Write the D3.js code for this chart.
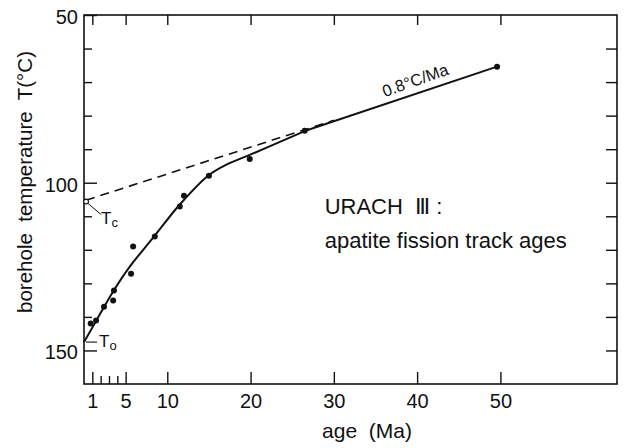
<!DOCTYPE html>
<html>
<head>
<meta charset="utf-8">
<script src="https://cdn.jsdelivr.net/npm/d3@7"></script>
<style>
  body { margin: 0; background: #fff; }
  text { font-family: 'Liberation Sans', Arial, sans-serif; fill: #111; }
</style>
</head>
<body>
<div id="root"></div>
<script>
// apatite fission track ages (Ma) vs borehole temperature (°C)
const sampleAges = [0.8, 1.45, 2.4, 3.6, 3.5, 5.65, 5.9, 8.5, 11.5, 12.0, 15.0, 19.9, 26.5, 49.6];
const sampleTemps = [142.0, 141.1, 137.0, 132.1, 135.1, 127.1, 119.0, 116.0, 107.1, 103.9, 97.9, 92.9, 84.5, 65.4];

// hand-drawn fit through the samples (curved part)
const curveAges = [0, 1.5, 3.5, 5.5, 8.3, 11.5, 14.9, 17.1, 19.9, 26.5];
const curveTemps = [147.5, 141.0, 132.4, 125.0, 116.4, 106.5, 97.9, 94.6, 91.7, 84.6];

// straight 0.8 °C/Ma part
const trendAges = [26.5, 49.6];
const trendTemps = [84.6, 65.4];

// extrapolation of the 0.8 °C/Ma trend back to present (Tc)
const dashAges = [0.25, 30];
const dashTemps = [105.2, 81.4];

const tcPoint = { age: 0.25, temp: 105.6 };
const toTemp = 147.5;

const xMajorTicks = [1, 5, 10, 20, 30, 40, 50];
const xMinorTicks = [2, 3, 4];
const yLabelTicks = [50, 100, 150];
const yMinorTicks = [60, 70, 80, 90, 110, 120, 130, 140];
const yRightTicks = [60, 70, 80, 90, 100, 110, 120, 130, 140, 150];

function drawChart() {
  const dimensions = {
    width: 625,
    height: 448,
    margin: { top: 15, right: 8, bottom: 64, left: 84 },
  };
  dimensions.boundedWidth =
    dimensions.width - (dimensions.margin.left + dimensions.margin.right);
  dimensions.boundedHeight =
    dimensions.height - (dimensions.margin.top + dimensions.margin.bottom);

  const xScale = d3.scaleLinear().domain([0, 64]).range([0, dimensions.boundedWidth]);
  const yScale = d3.scaleLinear().domain([50, 160]).range([0, dimensions.boundedHeight]);

  const wrapper = d3.select('#root')
    .append('svg')
    .attr('width', dimensions.width)
    .attr('height', dimensions.height);

  const bounds = wrapper.append('g')
    .attr('transform', `translate(${dimensions.margin.left},${dimensions.margin.top})`);

  // frame
  bounds.append('rect')
    .attr('width', dimensions.boundedWidth)
    .attr('height', dimensions.boundedHeight)
    .attr('fill', 'none')
    .attr('stroke', '#111')
    .attr('stroke-width', 1.6);

  const tickStyle = g => {
    g.select('.domain').remove();
    g.selectAll('line').attr('stroke', '#111').attr('stroke-width', 1.4);
    g.selectAll('text').attr('font-size', 20).attr('fill', '#111')
      .style('font-family', "'Liberation Sans', Arial, sans-serif");
  };

  // bottom axis
  bounds.append('g')
    .attr('transform', `translate(0,${dimensions.boundedHeight})`)
    .call(d3.axisBottom(xScale).tickValues(xMajorTicks).tickSizeInner(-12).tickSizeOuter(0).tickPadding(10))
    .call(tickStyle);
  bounds.append('g')
    .attr('transform', `translate(0,${dimensions.boundedHeight})`)
    .call(d3.axisBottom(xScale).tickValues(xMinorTicks).tickSizeInner(-8).tickSizeOuter(0).tickFormat(''))
    .call(tickStyle);

  // top axis
  bounds.append('g')
    .call(d3.axisTop(xScale).tickValues(xMajorTicks).tickSizeInner(-10).tickSizeOuter(0).tickFormat(''))
    .call(tickStyle);

  // left axis
  const yLeft = bounds.append('g')
    .call(d3.axisLeft(yScale).tickValues(yLabelTicks).tickSizeInner(-13).tickSizeOuter(0).tickPadding(6))
    .call(tickStyle);
  yLeft.selectAll('text').attr('dy', '0.42em');
  bounds.append('g')
    .call(d3.axisLeft(yScale).tickValues(yMinorTicks).tickSizeInner(-8).tickSizeOuter(0).tickFormat(''))
    .call(tickStyle);

  // right axis
  bounds.append('g')
    .attr('transform', `translate(${dimensions.boundedWidth},0)`)
    .call(d3.axisRight(yScale).tickValues(yRightTicks).tickSizeInner(-11).tickSizeOuter(0).tickFormat(''))
    .call(tickStyle);

  // axis titles
  wrapper.append('text')
    .attr('x', 367)
    .attr('y', 438)
    .attr('text-anchor', 'middle')
    .attr('font-size', 21)
    .attr('xml:space', 'preserve')
    .text('age  (Ma)');

  wrapper.append('text')
    .attr('transform', 'translate(32,182) rotate(-90)')
    .attr('text-anchor', 'middle')
    .attr('font-size', 20.5)
    .attr('xml:space', 'preserve')
    .text('borehole  temperature  T(°C)');

  // dashed extrapolation
  const dashData = dashAges.map((a, i) => ({ age: a, temp: dashTemps[i] }));
  bounds.append('path')
    .attr('d', d3.line().x(d => xScale(d.age)).y(d => yScale(d.temp))(dashData))
    .attr('fill', 'none')
    .attr('stroke', '#111')
    .attr('stroke-width', 1.6)
    .attr('stroke-dasharray', '9,6');

  // fitted curve + straight trend
  const curveData = curveAges.map((a, i) => ({ age: a, temp: curveTemps[i] }));
  const trendData = trendAges.map((a, i) => ({ age: a, temp: trendTemps[i] }));
  bounds.append('path')
    .attr('d', d3.line().x(d => xScale(d.age)).y(d => yScale(d.temp)).curve(d3.curveCatmullRom.alpha(0.5))(curveData))
    .attr('fill', 'none')
    .attr('stroke', '#111')
    .attr('stroke-width', 2);
  bounds.append('path')
    .attr('d', d3.line().x(d => xScale(d.age)).y(d => yScale(d.temp))(trendData))
    .attr('fill', 'none')
    .attr('stroke', '#111')
    .attr('stroke-width', 2);

  // samples
  const samples = sampleAges.map((a, i) => ({ age: a, temp: sampleTemps[i] }));
  bounds.selectAll('circle.sample')
    .data(samples)
    .join('circle')
    .attr('class', 'sample')
    .attr('cx', d => xScale(d.age))
    .attr('cy', d => yScale(d.temp))
    .attr('r', 3)
    .attr('fill', '#111');

  // Tc marker
  const tcX = xScale(tcPoint.age);
  const tcY = yScale(tcPoint.temp);
  bounds.append('circle')
    .attr('cx', tcX).attr('cy', tcY).attr('r', 2.4)
    .attr('fill', '#fff').attr('stroke', '#111').attr('stroke-width', 1.1);
  bounds.append('line')
    .attr('x1', tcX + 2).attr('y1', tcY + 2)
    .attr('x2', tcX + 15).attr('y2', tcY + 13)
    .attr('stroke', '#111').attr('stroke-width', 1);
  const tcLabel = bounds.append('text')
    .attr('x', tcX + 15).attr('y', tcY + 22)
    .attr('font-size', 17);
  tcLabel.append('tspan').text('T');
  tcLabel.append('tspan').attr('font-size', 13).attr('dy', 3).text('c');

  // To marker
  const toY = yScale(toTemp);
  bounds.append('line')
    .attr('x1', 2).attr('y1', toY)
    .attr('x2', 13).attr('y2', toY)
    .attr('stroke', '#111').attr('stroke-width', 1.1);
  const toLabel = bounds.append('text')
    .attr('x', 15).attr('y', toY + 5)
    .attr('font-size', 17);
  toLabel.append('tspan').text('T');
  toLabel.append('tspan').attr('font-size', 13).attr('dy', 3).text('o');

  // slope label
  bounds.append('text')
    .attr('transform', `translate(${xScale(36.1)},${yScale(74.5)}) rotate(-19.5)`)
    .attr('font-size', 16.5)
    .text('0.8°C/Ma');

  // annotation
  bounds.append('text')
    .attr('x', xScale(28.9)).attr('y', yScale(109.2))
    .attr('font-size', 22)
    .attr('xml:space', 'preserve')
    .text('URACH  Ⅲ :');
  bounds.append('text')
    .attr('x', xScale(28.9)).attr('y', yScale(119.6))
    .attr('font-size', 22)
    .text('apatite fission track ages');
}

drawChart();
</script>
</body>
</html>
